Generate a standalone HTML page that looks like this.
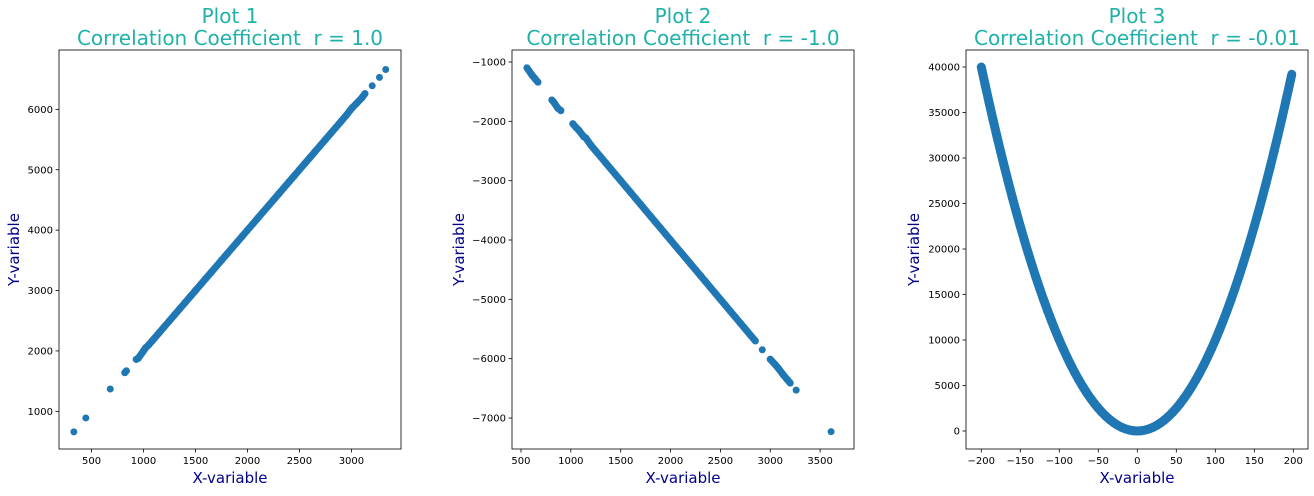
<!DOCTYPE html>
<html><head><meta charset="utf-8"><style>
html,body{margin:0;padding:0;background:#fff}
svg{display:block;font-family:"DejaVu Sans","Liberation Sans",sans-serif}
</style></head><body>
<svg id="chart" width="1314" height="496" viewBox="0 0 1314 496"></svg>
<script>
// Plot 1 data
const p1X = [330,445,680,820,835,930,950,1000,1020,1050,1080,1100,1150,1200,1250,1300,1350,1400,1450,1500,1550,1600,1650,1700,1750,1800,1850,1900,1950,2000,2050,2100,2150,2200,2250,2300,2350,2400,2450,2500,2550,2600,2650,2700,2750,2800,2850,2900,2950,2990,3010,3050,3100,3130,3200,3270,3330];
const p1Y = [660,890,1370,1640,1670,1860,1880,2000,2050,2100,2160,2200,2300,2400,2500,2600,2700,2800,2900,3000,3100,3200,3300,3400,3500,3600,3700,3800,3900,4000,4100,4200,4300,4400,4500,4600,4700,4800,4900,5000,5100,5200,5300,5400,5500,5600,5700,5800,5900,5990,6030,6100,6190,6260,6390,6530,6660];
const p1XTicks = [500,1000,1500,2000,2500,3000];
const p1YTicks = [1000,2000,3000,4000,5000,6000];
// Plot 2 data
const p2X = [560,610,640,670,810,830,870,900,1020,1050,1080,1130,1150,1200,1250,1300,1350,1400,1450,1500,1550,1600,1650,1700,1750,1800,1850,1900,1950,2000,2050,2100,2150,2200,2250,2300,2350,2400,2450,2500,2550,2600,2650,2700,2750,2800,2850,2920,3000,3050,3080,3130,3170,3200,3260,3610];
const p2Y = [-1100,-1220,-1280,-1340,-1640,-1680,-1780,-1820,-2040,-2100,-2150,-2260,-2280,-2400,-2500,-2600,-2700,-2800,-2900,-3000,-3100,-3200,-3300,-3400,-3500,-3600,-3700,-3800,-3900,-4000,-4100,-4200,-4300,-4400,-4500,-4600,-4700,-4800,-4900,-5000,-5100,-5200,-5300,-5400,-5500,-5600,-5700,-5850,-6010,-6100,-6160,-6270,-6350,-6410,-6530,-7230];
const p2XTicks = [500,1000,1500,2000,2500,3000,3500];
const p2YTicks = [-1000,-2000,-3000,-4000,-5000,-6000,-7000];
// Plot 3 data
const p3X = [-200,-195,-190,-185,-180,-175,-170,-165,-160,-155,-150,-145,-140,-135,-130,-125,-120,-115,-110,-105,-100,-95,-90,-85,-80,-75,-70,-65,-60,-55,-50,-45,-40,-35,-30,-25,-20,-15,-10,-5,0,5,10,15,20,25,30,35,40,45,50,55,60,65,70,75,80,85,90,95,100,105,110,115,120,125,130,135,140,145,150,155,160,165,170,175,180,185,190,195,198];
const p3Y = [40000,38025,36100,34225,32400,30625,28900,27225,25600,24025,22500,21025,19600,18225,16900,15625,14400,13225,12100,11025,10000,9025,8100,7225,6400,5625,4900,4225,3600,3025,2500,2025,1600,1225,900,625,400,225,100,25,0,25,100,225,400,625,900,1225,1600,2025,2500,3025,3600,4225,4900,5625,6400,7225,8100,9025,10000,11025,12100,13225,14400,15625,16900,18225,19600,21025,22500,24025,25600,27225,28900,30625,32400,34225,36100,38025,39200];
const p3XTicks = [-200,-150,-100,-50,0,50,100,150,200];
const p3YTicks = [0,5000,10000,15000,20000,25000,30000,35000,40000];

const NS = "http://www.w3.org/2000/svg";
const svg = document.getElementById('chart');
function mk(tag, attrs, parent){const e=document.createElementNS(NS,tag);for(const k in attrs)e.setAttribute(k,attrs[k]);(parent||svg).appendChild(e);return e;}
function fmt(v){return v<0?'\u2212'+Math.abs(v):String(v);}

function plot(cfg){
  const {L,R,T,B,xmin,xmax,ymin,ymax,xs,ys,xt,yt,num,r,gap,sw} = cfg;
  const g = mk('g',{});
  
  
  const sx = v => L + (v-xmin)/(xmax-xmin)*(R-L);
  const sy = v => B - (v-ymin)/(ymax-ymin)*(B-T);
  const cx=(L+R)/2;
  const t1 = mk('text',{x:cx,y:23,'text-anchor':'middle','font-size':20,fill:'#20b2aa'},g);
  t1.textContent='Plot '+num;
  
  
  const t2 = mk('text',{x:cx,y:45,'text-anchor':'middle','font-size':20,fill:'#20b2aa'},g);
  t2.textContent='Correlation Coefficient \u00a0r = '+r;
  
  
  const sg = mk('g',{fill:'#1f77b4'},g);
  
  
  for(let i=1;i<xs.length;i++){
    if(Math.abs(xs[i]-xs[i-1])<=gap){
      const ln = mk('line',{x1:sx(xs[i-1]),y1:sy(ys[i-1]),x2:sx(xs[i]),y2:sy(ys[i]),stroke:'#1f77b4','stroke-width':sw,'stroke-linecap':'round'},sg);
      
      
    }
  }
  for(let i=0;i<xs.length;i++){
    const c = mk('circle',{cx:sx(xs[i]),cy:sy(ys[i]),r:3.5},sg);
    
    
  }
  const fr = mk('rect',{x:L,y:T,width:R-L,height:B-T,fill:'none',stroke:'#000','stroke-width':0.8},g);
  
  
  xt.forEach(v=>{
    const x=sx(v);
    mk('line',{x1:x,y1:B,x2:x,y2:B+3.5,stroke:'#000','stroke-width':0.8},g);
    const tx=mk('text',{x:x,y:B+15,'text-anchor':'middle','font-size':10,fill:'#000'},g);
    tx.textContent=fmt(v);
    
    
  });
  yt.forEach(v=>{
    const y=sy(v);
    mk('line',{x1:L,y1:y,x2:L-3.5,y2:y,stroke:'#000','stroke-width':0.8},g);
    const tx=mk('text',{x:L-6,y:y+3.5,'text-anchor':'end','font-size':10,fill:'#000'},g);
    tx.textContent=fmt(v);
    
    
  });
  const xl=mk('text',{x:cx,y:483,'text-anchor':'middle','font-size':15,fill:'#00008b'},g);
  xl.textContent='X-variable';
  
  
  const yx=cfg.ylx;
  const yl=mk('text',{x:yx,y:(T+B)/2,'text-anchor':'middle','font-size':15,fill:'#00008b',transform:`rotate(-90 ${yx} ${(T+B)/2})`},g);
  yl.textContent='Y-variable';
  
  
}

plot({num:1,r:'1.0',L:59,R:401,T:50,B:449,xmin:187,xmax:3477,ymin:376,ymax:6983,xs:p1X,ys:p1Y,xt:p1XTicks,yt:p1YTicks,gap:55,sw:7,ylx:19});
plot({num:2,r:'-1.0',L:512,R:854,T:50,B:449,xmin:410,xmax:3840,ymin:-7522,ymax:-798,xs:p2X,ys:p2Y,xt:p2XTicks,yt:p2YTicks,gap:55,sw:7,ylx:464});
plot({num:3,r:'-0.01',L:966,R:1308,T:50,B:449,xmin:-219.6,xmax:218.8,ymin:-1978,ymax:41870,xs:p3X,ys:p3Y,xt:p3XTicks,yt:p3YTicks,gap:10,sw:9,ylx:919});
</script>
</body></html>
